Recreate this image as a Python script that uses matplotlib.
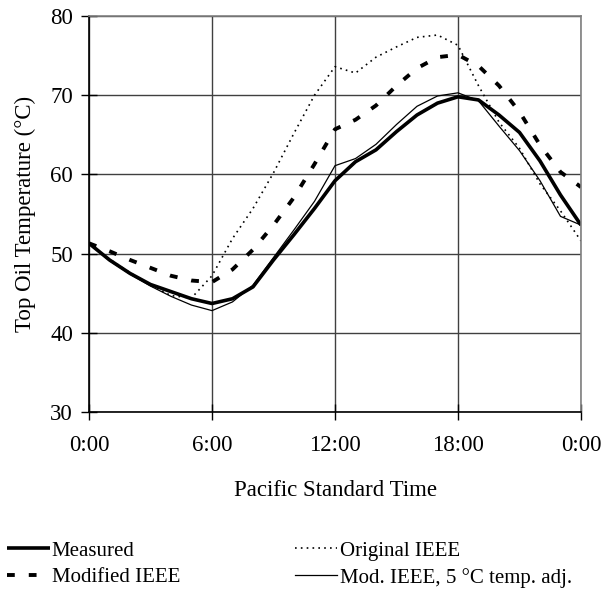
import matplotlib
matplotlib.use("Agg")
import matplotlib.pyplot as plt

hours = list(range(25))
measured = [51.3, 49.2, 47.5, 46.1, 45.2, 44.3, 43.7, 44.3, 45.8, 49.2, 52.4, 55.7, 59.2,
            61.6, 63.1, 65.4, 67.5, 69.0, 69.8, 69.4, 67.5, 65.3, 61.7, 57.4, 53.6]
original_ieee = [51.3, 49.3, 47.6, 46.0, 44.7, 44.4, 47.2, 51.9, 55.7, 60.2, 65.2, 70.0, 73.6,
                 72.8, 74.8, 76.1, 77.3, 77.6, 76.3, 71.2, 66.6, 63.3, 58.8, 55.4, 51.6]
modified_ieee = [51.3, 50.3, 49.2, 48.2, 47.2, 46.6, 46.4, 48.0, 50.5, 53.6, 57.1, 61.3, 65.7,
                 66.9, 68.7, 71.2, 73.4, 74.8, 75.1, 73.7, 71.2, 67.9, 63.7, 60.3, 58.4]
mod_ieee_5c = [51.3, 49.1, 47.4, 45.9, 44.6, 43.5, 42.8, 43.9, 46.0, 49.5, 53.0, 56.6, 61.1,
               62.0, 63.8, 66.3, 68.6, 69.9, 70.3, 69.3, 66.1, 63.0, 59.2, 54.7, 53.6]

xticks = [0, 6, 12, 18, 24]
xticklabels = ["0:00", "6:00", "12:00", "18:00", "0:00"]
yticks = [30, 40, 50, 60, 70, 80]

plt.rcParams['font.family'] = ['Liberation Serif', 'DejaVu Serif']

fig = plt.figure(figsize=(6.03, 5.95), dpi=100)
ax = fig.add_axes([89/603, 1-412/595, (581-89)/603, (412-16)/595])

ax.grid(True, color='#404040', lw=1.0)
ax.set_axisbelow(True)

l_meas, = ax.plot(hours, measured, color='black', lw=2.6, solid_capstyle='butt', label='Measured')
l_orig, = ax.plot(hours, original_ieee, color='black', lw=1.2, linestyle=(0, (1, 2.5)), label='Original IEEE')
l_mod, = ax.plot(hours, modified_ieee, color='black', lw=2.8, linestyle=(0, (2.0, 3.6)),
                 dash_capstyle='butt', label='Modified IEEE')
l_5c, = ax.plot(hours, mod_ieee_5c, color='black', lw=0.9, label='Mod. IEEE, 5 °C temp. adj.')

ax.set_xlim(0, 24)
ax.set_ylim(30, 80)
ax.set_xticks(xticks)
ax.set_xticklabels(xticklabels)
ax.set_yticks(yticks)
ax.tick_params(direction='inout', length=11, width=1.0, labelsize=16.5, pad=6)
ax.tick_params(axis='x', pad=11)

for s in ['left', 'bottom']:
    ax.spines[s].set_color('black')
    ax.spines[s].set_linewidth(1.2)
for s in ['top', 'right']:
    ax.spines[s].set_color('#808080')
    ax.spines[s].set_linewidth(1.2)

ax.set_xlabel('Pacific Standard Time', fontsize=16.5, labelpad=17)
ax.set_ylabel('Top Oil Temperature (°C)', fontsize=16.5, labelpad=10)

fig.legend([l_meas, l_mod, l_orig, l_5c],
           ['Measured', 'Modified IEEE', 'Original IEEE', 'Mod. IEEE, 5 °C temp. adj.'],
           loc='upper left', bbox_to_anchor=(7/603, 1-541/595), ncol=2, frameon=False,
           fontsize=15, borderpad=0, borderaxespad=0, handlelength=2.05, handletextpad=0.1,
           columnspacing=5.5, labelspacing=0.35)

fig.savefig('out.png', dpi=100)
